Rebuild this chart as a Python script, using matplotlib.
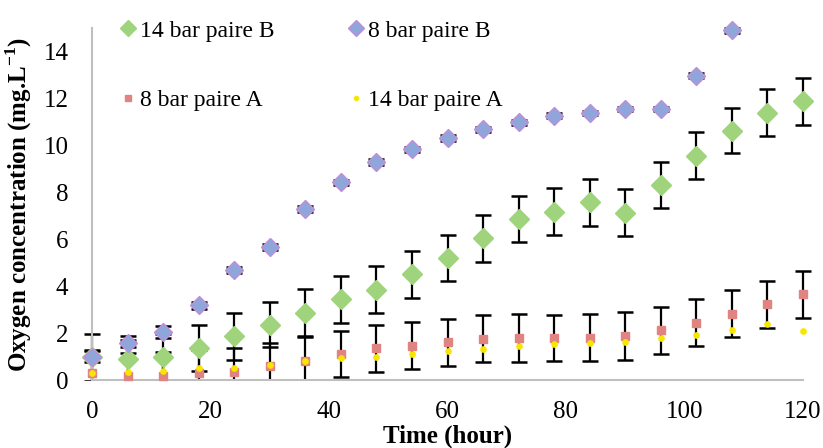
import matplotlib
matplotlib.use("Agg")
import matplotlib.pyplot as plt
from matplotlib.patches import Rectangle
from matplotlib.lines import Line2D

plt.rcParams['font.family'] = ['Liberation Serif', 'DejaVu Serif']
plt.rcParams['mathtext.fontset'] = 'custom'
plt.rcParams['mathtext.rm'] = 'Liberation Serif'
plt.rcParams['mathtext.bf'] = 'Liberation Serif:bold'

time_h = [0, 6, 12, 18, 24, 30, 36, 42, 48, 54, 60, 66, 72, 78, 84, 90, 96, 102, 108, 114, 120]

b14_vals = [0.97, 0.88, 0.97, 1.38, 1.86, 2.36, 2.87, 3.44, 3.85, 4.51, 5.22, 6.03, 6.86, 7.17,
            7.58, 7.13, 8.31, 9.55, 10.63, 11.38, 11.87]
b14_err = [1.0, 1.0, 1.0, 0.98, 1.0, 0.96, 1.0, 1.0, 1.0, 1.0, 0.98, 1.0, 0.98, 1.0,
           1.0, 1.0, 1.0, 1.0, 0.95, 1.0, 1.0]

b8_time = [0, 6, 12, 18, 24, 30, 36, 42, 48, 54, 60, 66, 72, 78, 84, 90, 96, 102, 108]
b8_vals = [1.0, 1.57, 2.04, 3.18, 4.7, 5.68, 7.3, 8.42, 9.28, 9.83, 10.3, 10.68, 10.98, 11.26,
           11.38, 11.55, 11.55, 12.97, 14.9]
b8_err = [0.25, 0.15, 0.25, 0.15, 0.12, 0.12, 0.12, 0.12, 0.12, 0.12, 0.12, 0.1, 0.1, 0.1,
          0.1, 0.1, 0.1, 0.12, 0.1]

a8_vals = [0.29, 0.15, 0.15, 0.29, 0.36, 0.58, 0.82, 1.09, 1.36, 1.47, 1.6, 1.76, 1.8, 1.79,
           1.8, 1.87, 2.12, 2.44, 2.83, 3.23, 3.65]
a8_err = [1.0, 1.0, 1.05, 1.0, 1.0, 0.98, 1.02, 0.98, 1.0, 1.0, 1.02, 1.0, 1.02, 1.0,
          1.0, 1.01, 1.0, 1.0, 1.0, 1.0, 1.0]

a14_vals = [0.3, 0.35, 0.4, 0.52, 0.52, 0.62, 0.8, 0.93, 0.97, 1.09, 1.22, 1.3, 1.47, 1.55,
            1.57, 1.6, 1.8, 1.91, 2.12, 2.4, 2.09]

labels = ['14 bar paire B', '8 bar paire B', '8 bar paire A', '14 bar paire A']
x_ticks = [0, 20, 40, 60, 80, 100, 120]
y_ticks = [0, 2, 4, 6, 8, 10, 12, 14]

green = '#A0D47C'
purple_fill = '#8FA6DA'
purple_edge = '#C08ED8'
red = '#E08482'
yellow = '#F8E600'

fig = plt.figure(figsize=(8.23, 4.48), dpi=100)
ax = fig.add_axes([92/823, 1-380/448, (803-92)/823, (380-28)/448])
ax.set_xlim(0, 120)
ax.set_ylim(0, 15)

# clip error bars at y = 0 but not at the left/right/top edges
clip_rect = Rectangle((-20, 0), 160, 30, transform=ax.transData, facecolor='none', edgecolor='none')

ekw = dict(fmt='none', ecolor='black', elinewidth=1.6, capsize=6, capthick=1.8, zorder=2)
for xs, ys, es in [(time_h, b14_vals, b14_err), (b8_time, b8_vals, b8_err), (time_h, a8_vals, a8_err)]:
    cont = ax.errorbar(xs, ys, yerr=es, **ekw)
    for art in list(cont.lines[1]) + list(cont.lines[2]):
        art.set_clip_path(clip_rect)

ax.plot(time_h, b14_vals, linestyle='none', marker='D', markersize=10.5, color=green,
        markeredgecolor=green, clip_on=False, zorder=3)
ax.plot(b8_time, b8_vals, linestyle='none', marker='D', markersize=9.5, markerfacecolor=purple_fill,
        markeredgecolor=purple_edge, markeredgewidth=1.0, clip_on=False, zorder=4)
ax.plot(time_h, a8_vals, linestyle='none', marker='s', markersize=5.5, color=red,
        clip_on=False, zorder=5)
ax.plot(time_h, a14_vals, linestyle='none', marker='o', markersize=3.8, color=yellow,
        clip_on=False, zorder=6)

ax.set_xticks(x_ticks)
ax.set_yticks(y_ticks)
ax.tick_params(axis='both', length=0, labelsize=18)
ax.tick_params(axis='x', pad=15)
ax.tick_params(axis='y', pad=17)
for s in ['top', 'right']:
    ax.spines[s].set_visible(False)
for s in ['left', 'bottom']:
    ax.spines[s].set_color('#BFBFBF')
    ax.spines[s].set_linewidth(1.5)

ax.set_xlabel('Time (hour)', fontsize=18, fontweight='bold', labelpad=1)
ax.set_ylabel(r'Oxygen concentration (mg.L$^{\mathbf{-1}}$)', fontsize=18, fontweight='bold', labelpad=7)

h14b = Line2D([], [], linestyle='none', marker='D', markersize=8, color=green)
h8b = Line2D([], [], linestyle='none', marker='D', markersize=8, markerfacecolor=purple_fill,
             markeredgecolor=purple_edge)
h8a = Line2D([], [], linestyle='none', marker='s', markersize=5, color=red)
h14a = Line2D([], [], linestyle='none', marker='o', markersize=3, color=yellow)
fig.legend([h14b, h8a, h8b, h14a], [labels[0], labels[2], labels[1], labels[3]],
           ncol=2, loc='upper left', bbox_to_anchor=(121/823, 1-20/448), frameon=False,
           fontsize=17, handlelength=0.6, handletextpad=0.2, labelspacing=2.05,
           columnspacing=3.15, borderpad=0, borderaxespad=0)

fig.savefig('out.png', dpi=100)
